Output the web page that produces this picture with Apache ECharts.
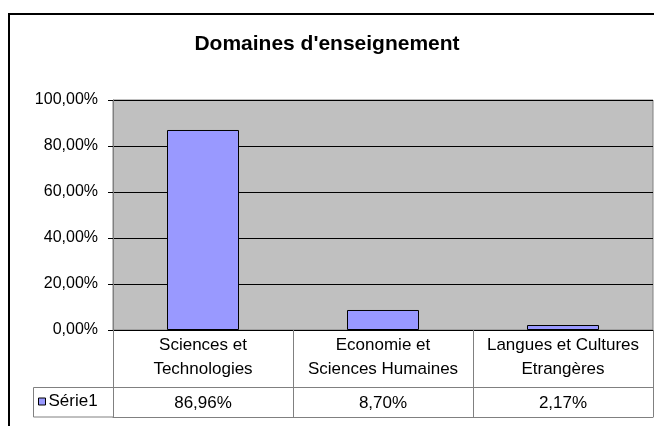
<!DOCTYPE html>
<html>
<head>
<meta charset="utf-8">
<script src="https://cdn.jsdelivr.net/npm/echarts@6/dist/echarts.min.js"></script>
<style>
  html, body { margin: 0; padding: 0; background: #fff; }
  #chart { width: 654px; height: 426px; }
</style>
</head>
<body>
<div id="chart"></div>
<script>
// data
var categories = ['Sciences et\nTechnologies', 'Economie et\nSciences Humaines', 'Langues et Cultures\nEtrangères'];
var serie1 = [0.8696, 0.0870, 0.0217];
var seriesName = 'Série1';
var yTicks = { min: 0, max: 1, interval: 0.2 };

var font = 'Liberation Sans, Arial, sans-serif';

function pct(v) {
    return (v * 100).toFixed(2).replace('.', ',') + '%';
}

var chart = echarts.init(document.getElementById('chart'));
chart.setOption({
    animation: false,
    textStyle: { fontFamily: font },
    title: {
        text: "Domaines d'enseignement",
        left: 'center',
        top: 34,
        padding: [0, 0, 0, 26],
        textStyle: { fontSize: 21, fontWeight: 'bold', color: '#000', fontFamily: font }
    },
    legend: {
        data: [seriesName],
        left: 38,
        top: 393,
        padding: 0,
        itemWidth: 7,
        itemHeight: 7,
        icon: 'rect',
        itemStyle: { borderColor: '#000', borderWidth: 1 },
        textStyle: { fontSize: 17, color: '#000', fontFamily: font, padding: [0, 0, 0, -2] }
    },
    grid: {
        left: 113,
        right: 1,
        top: 100,
        bottom: 96,
        show: true,
        backgroundColor: '#c0c0c0',
        borderColor: '#808080',
        borderWidth: 1
    },
    xAxis: [
        {
            type: 'category',
            data: categories,
            position: 'bottom',
            axisLine: { show: true, lineStyle: { color: '#000', width: 1 } },
            axisTick: { show: true, length: 87, lineStyle: { color: '#808080' } },
            axisLabel: { color: '#000', fontSize: 17, lineHeight: 24, margin: 3, interval: 0, fontFamily: font }
        },
        {
            type: 'category',
            data: categories,
            position: 'bottom',
            offset: 57,
            axisLine: { show: true, lineStyle: { color: '#808080', width: 1 } },
            axisTick: { show: false },
            axisLabel: {
                color: '#000', fontSize: 17, lineHeight: 20, margin: 6, interval: 0, fontFamily: font,
                formatter: function (v, i) { return pct(serie1[i]); }
            }
        },
        {
            type: 'category',
            data: categories,
            position: 'bottom',
            offset: 87,
            axisLine: { show: true, lineStyle: { color: '#808080', width: 1 } },
            axisTick: { show: false },
            axisLabel: { show: false }
        }
    ],
    yAxis: {
        type: 'value',
        min: yTicks.min,
        max: yTicks.max,
        interval: yTicks.interval,
        axisLine: { show: true, lineStyle: { color: '#808080' } },
        axisTick: { show: true, length: 5, lineStyle: { color: '#000' } },
        splitLine: { show: true, lineStyle: { color: '#000', width: 1 } },
        axisLabel: { color: '#000', fontSize: 16, margin: 15, fontFamily: font, formatter: pct }
    },
    series: [{
        name: seriesName,
        type: 'bar',
        data: serie1,
        barWidth: '40%',
        itemStyle: { color: '#9999ff', borderColor: '#000', borderWidth: 1 }
    }],
    graphic: [
        {
            type: 'rect',
            shape: { x: 9, y: 14, width: 700, height: 500 },
            style: { fill: 'none', stroke: '#000', lineWidth: 2 },
            silent: true
        },
        {
            type: 'rect',
            shape: { x: 33.5, y: 387.5, width: 80, height: 29.5 },
            style: { fill: 'none', stroke: '#808080', lineWidth: 1 },
            silent: true
        }
    ]
});
</script>
</body>
</html>
